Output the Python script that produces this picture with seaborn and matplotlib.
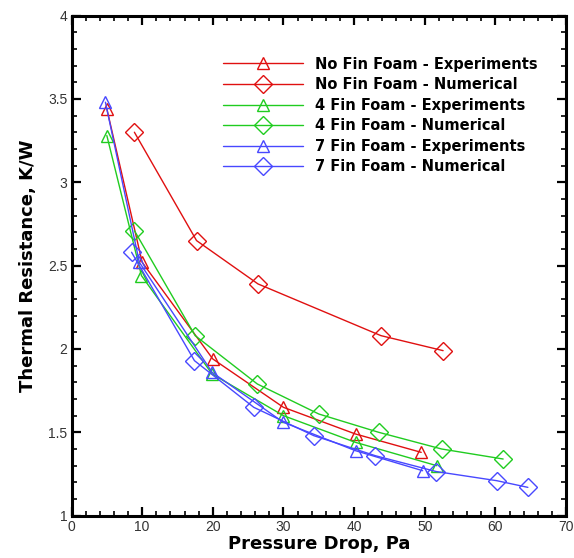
import numpy as np
import pandas as pd
import seaborn as sns
import matplotlib.pyplot as plt
from matplotlib.ticker import MultipleLocator

# data
nofin_exp_x = [5.0, 10.0, 20.0, 30.0, 40.2, 49.5]
nofin_exp_y = [3.44, 2.52, 1.94, 1.65, 1.49, 1.38]
nofin_num_x = [8.9, 17.7, 26.4, 43.8, 52.6]
nofin_num_y = [3.30, 2.65, 2.39, 2.08, 1.99]

fin4_exp_x = [5.0, 9.9, 19.9, 30.0, 40.2, 51.7]
fin4_exp_y = [3.28, 2.44, 1.85, 1.60, 1.44, 1.30]
fin4_num_x = [8.9, 17.5, 26.3, 35.0, 43.5, 52.4, 61.1]
fin4_num_y = [2.71, 2.08, 1.79, 1.61, 1.50, 1.40, 1.34]

fin7_exp_x = [4.8, 9.6, 19.9, 30.0, 40.2, 49.7]
fin7_exp_y = [3.48, 2.52, 1.86, 1.56, 1.39, 1.27]
fin7_num_x = [8.5, 17.4, 25.8, 34.3, 43.0, 51.6, 60.2, 64.6]
fin7_num_y = [2.58, 1.93, 1.65, 1.48, 1.36, 1.265, 1.21, 1.17]

series = [
    ('No Fin Foam - Experiments', nofin_exp_x, nofin_exp_y, '#e01010', '^'),
    ('No Fin Foam - Numerical', nofin_num_x, nofin_num_y, '#e01010', 'D'),
    ('4 Fin Foam - Experiments', fin4_exp_x, fin4_exp_y, '#20cc20', '^'),
    ('4 Fin Foam - Numerical', fin4_num_x, fin4_num_y, '#20cc20', 'D'),
    ('7 Fin Foam - Experiments', fin7_exp_x, fin7_exp_y, '#4848ff', '^'),
    ('7 Fin Foam - Numerical', fin7_num_x, fin7_num_y, '#4848ff', 'D'),
]

sns.set_style('ticks')
plt.rcParams['font.family'] = ['Liberation Sans', 'DejaVu Sans']
plt.rcParams['text.color'] = 'black'
plt.rcParams['axes.labelcolor'] = 'black'

fig = plt.figure(figsize=(5.74, 5.58), dpi=100)
ax = fig.add_axes([0.1246, 0.0758, 0.8615, 0.8964])

for label, xs, ys, col, mk in series:
    df = pd.DataFrame({'x': xs, 'y': ys})
    ms = 8.5 if mk == '^' else 9.5
    sns.lineplot(data=df, x='x', y='y', ax=ax, color=col, linewidth=1.0,
                 marker=mk, markersize=ms, markerfacecolor='none',
                 markeredgecolor=col, markeredgewidth=1.0, label=label)

ax.set_xlim(0, 70)
ax.set_ylim(1, 4)
ax.xaxis.set_major_locator(MultipleLocator(10))
ax.xaxis.set_minor_locator(MultipleLocator(2))
ax.yaxis.set_major_locator(MultipleLocator(0.5))
ax.yaxis.set_minor_locator(MultipleLocator(0.1))
ax.set_xticklabels([f'{int(v)}' for v in ax.get_xticks()])
ax.set_yticklabels([f'{v:g}' for v in ax.get_yticks()])

for s in ax.spines.values():
    s.set_linewidth(2.2)
    s.set_color('black')
ax.tick_params(which='both', direction='in', top=True, right=True,
               labelsize=10, labelcolor='#333333', color='black', pad=3)
ax.tick_params(which='major', length=6.5, width=1.6)
ax.tick_params(which='minor', length=3.5, width=1.2)

ax.set_xlabel('Pressure Drop, Pa', fontsize=13, fontweight='bold',
              family='DejaVu Sans', color='black', labelpad=1)
ax.set_ylabel('Thermal Resistance, K/W', fontsize=13, fontweight='bold',
              family='DejaVu Sans', color='black', labelpad=8)

leg = ax.legend(loc='upper left', bbox_to_anchor=(0.306, 0.918), frameon=False,
                handlelength=5.5, handletextpad=0.8, labelspacing=0.38,
                borderpad=0, borderaxespad=0,
                prop={'weight': 'bold', 'size': 10.5, 'family': 'DejaVu Sans'})
for t in leg.get_texts():
    t.set_color('black')

fig.savefig('out.png', dpi=100)
